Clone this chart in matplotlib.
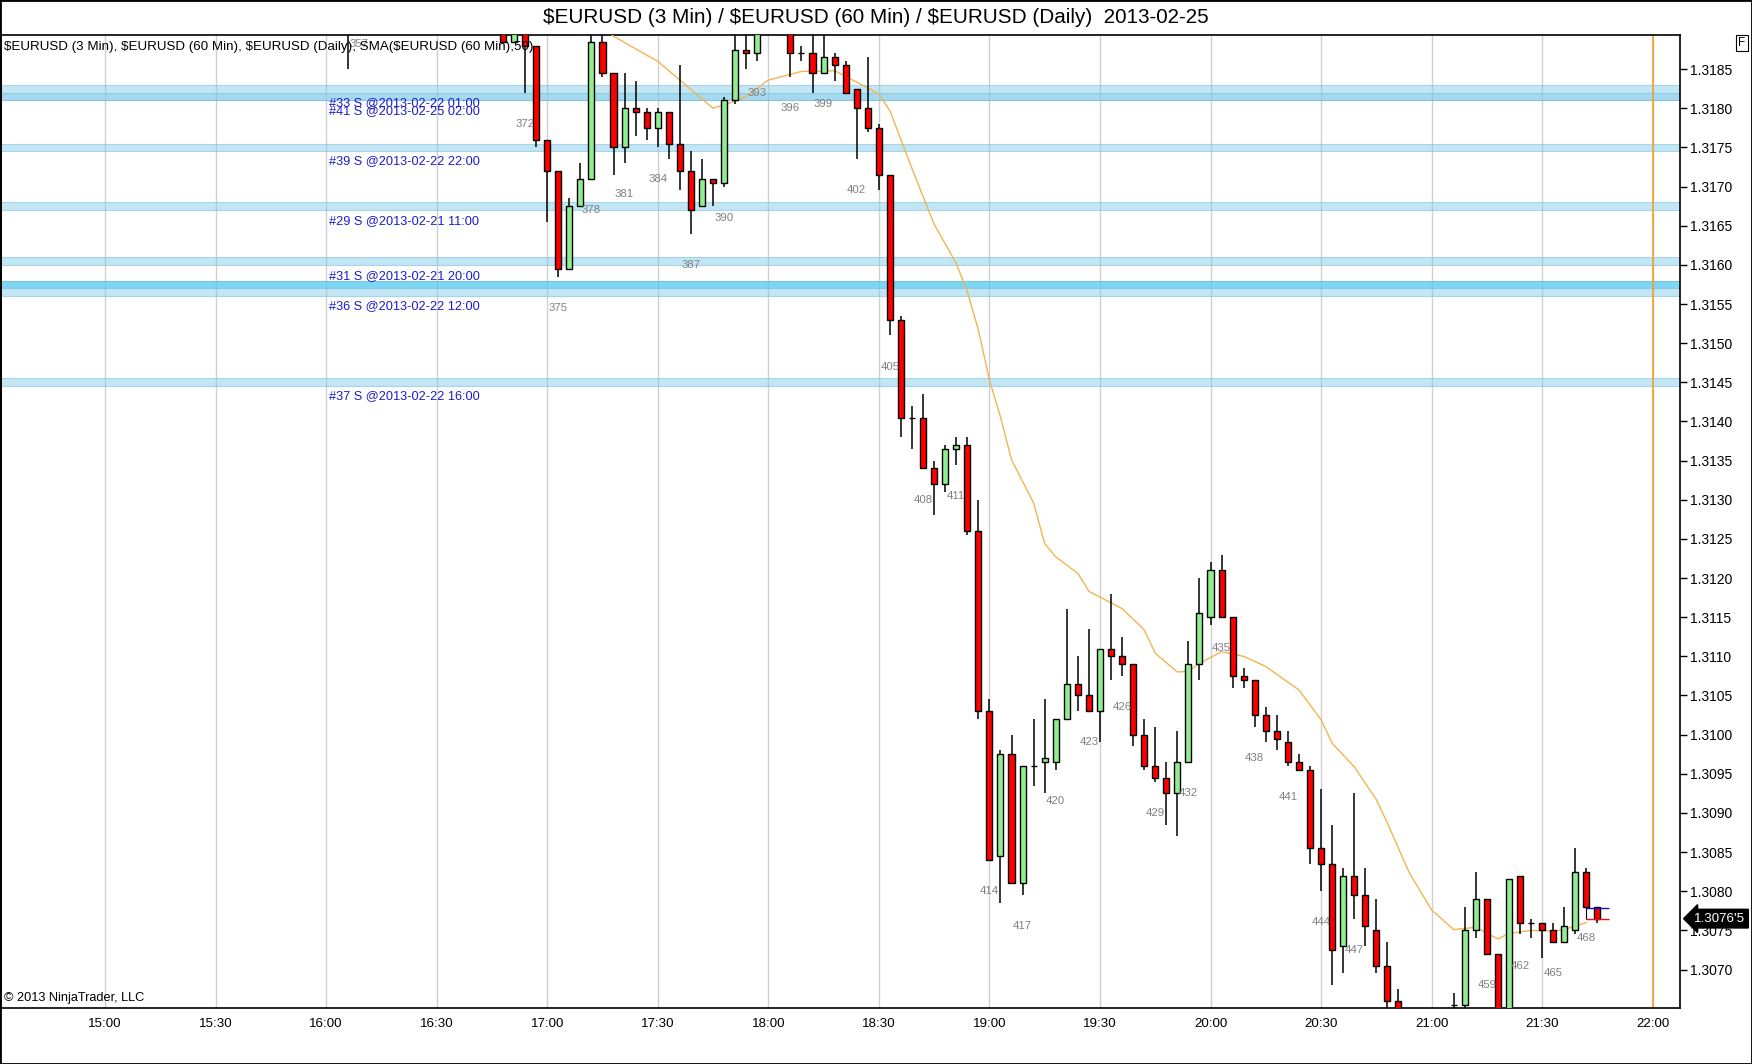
import numpy as np
import matplotlib
matplotlib.use('Agg')
import matplotlib.pyplot as plt
from matplotlib.patches import Rectangle

plt.rcParams['font.family'] = ['Liberation Sans', 'DejaVu Sans']

# 3 min bars, bar number -> OHLC
bar_no = [356, 357, 370, 371, 372, 373, 374, 375, 376, 377, 378, 379, 380, 381, 382, 383, 384, 385,
          386, 387, 388, 389, 390, 391, 392, 393, 394, 395, 396, 397, 398, 399, 400, 401, 402, 403,
          404, 405, 406, 407, 408, 409, 410, 411, 412, 413, 414, 415, 416, 417, 418, 419, 420, 421,
          422, 423, 424, 425, 426, 427, 428, 429, 430, 431, 432, 433, 434, 435, 436, 437, 438, 439,
          440, 441, 442, 443, 444, 445, 446, 447, 448, 449, 450, 451, 452, 453, 454, 455, 456, 457,
          458, 459, 460, 461, 462, 463, 464, 465, 466, 467, 468, 469]
opens = [1.31920, 1.31930, 1.31900, 1.31885, 1.31905, 1.31880, 1.31760, 1.31720, 1.31595, 1.31675,
         1.31710, 1.31885, 1.31845, 1.31750, 1.31800, 1.31795, 1.31775, 1.31795, 1.31755, 1.31720,
         1.31675, 1.31710, 1.31705, 1.31810, 1.31875, 1.31870, 1.31905, 1.31930, 1.31920, 1.31870,
         1.31870, 1.31845, 1.31865, 1.31855, 1.31825, 1.31800, 1.31775, 1.31715, 1.31530, 1.31405,
         1.31405, 1.31340, 1.31320, 1.31365, 1.31370, 1.31260, 1.31030, 1.30845, 1.30975, 1.30810,
         1.30960, 1.30965, 1.30965, 1.31020, 1.31065, 1.31050, 1.31030, 1.31110, 1.31100, 1.31090,
         1.31000, 1.30960, 1.30945, 1.30925, 1.30965, 1.31090, 1.31150, 1.31210, 1.31150, 1.31075,
         1.31070, 1.31025, 1.31005, 1.30990, 1.30965, 1.30955, 1.30855, 1.30835, 1.30730, 1.30820,
         1.30795, 1.30750, 1.30705, 1.30660, 1.30620, 1.30580, 1.30560, 1.30600, 1.30655, 1.30655,
         1.30750, 1.30790, 1.30720, 1.30640, 1.30820, 1.30760, 1.30760, 1.30750, 1.30735, 1.30750,
         1.30825, 1.30780]
highs = [1.31940, 1.31950, 1.31910, 1.31910, 1.31920, 1.31880, 1.31760, 1.31720, 1.31685, 1.31730,
         1.31900, 1.31900, 1.31845, 1.31845, 1.31835, 1.31800, 1.31800, 1.31795, 1.31855, 1.31745,
         1.31735, 1.31710, 1.31815, 1.31910, 1.31900, 1.31920, 1.31940, 1.31950, 1.31930, 1.31880,
         1.31900, 1.31900, 1.31870, 1.31860, 1.31825, 1.31865, 1.31780, 1.31715, 1.31535, 1.31420,
         1.31435, 1.31350, 1.31370, 1.31380, 1.31380, 1.31300, 1.31045, 1.30980, 1.31000, 1.30960,
         1.31020, 1.31045, 1.31020, 1.31160, 1.31100, 1.31135, 1.31110, 1.31180, 1.31125, 1.31090,
         1.31020, 1.31010, 1.30965, 1.31005, 1.31120, 1.31200, 1.31220, 1.31230, 1.31150, 1.31085,
         1.31070, 1.31035, 1.31025, 1.31005, 1.30975, 1.30960, 1.30930, 1.30885, 1.30830, 1.30925,
         1.30830, 1.30790, 1.30735, 1.30675, 1.30630, 1.30600, 1.30620, 1.30640, 1.30670, 1.30780,
         1.30825, 1.30790, 1.30720, 1.30815, 1.30820, 1.30765, 1.30760, 1.30760, 1.30780, 1.30855,
         1.30830, 1.30780]
lows = [1.31850, 1.31922, 1.31885, 1.31885, 1.31820, 1.31750, 1.31655, 1.31585, 1.31595, 1.31675,
        1.31710, 1.31840, 1.31715, 1.31730, 1.31765, 1.31760, 1.31750, 1.31735, 1.31695, 1.31640,
        1.31675, 1.31675, 1.31700, 1.31805, 1.31850, 1.31860, 1.31905, 1.31915, 1.31840, 1.31860,
        1.31820, 1.31845, 1.31835, 1.31820, 1.31735, 1.31770, 1.31695, 1.31510, 1.31380, 1.31365,
        1.31340, 1.31280, 1.31310, 1.31345, 1.31255, 1.31020, 1.30840, 1.30785, 1.30810, 1.30795,
        1.30935, 1.30925, 1.30955, 1.31020, 1.31030, 1.31030, 1.30990, 1.31070, 1.31075, 1.30985,
        1.30955, 1.30940, 1.30885, 1.30870, 1.30965, 1.31070, 1.31140, 1.31150, 1.31060, 1.31060,
        1.31010, 1.30990, 1.30980, 1.30960, 1.30955, 1.30835, 1.30800, 1.30680, 1.30695, 1.30765,
        1.30730, 1.30695, 1.30640, 1.30600, 1.30560, 1.30540, 1.30540, 1.30580, 1.30640, 1.30640,
        1.30740, 1.30720, 1.30620, 1.30630, 1.30745, 1.30740, 1.30715, 1.30735, 1.30735, 1.30745,
        1.30780, 1.30760]
closes = [1.31930, 1.31920, 1.31885, 1.31900, 1.31880, 1.31760, 1.31720, 1.31595, 1.31675, 1.31710,
          1.31885, 1.31845, 1.31750, 1.31800, 1.31795, 1.31775, 1.31795, 1.31755, 1.31720, 1.31670,
          1.31710, 1.31705, 1.31810, 1.31875, 1.31870, 1.31900, 1.31930, 1.31920, 1.31870, 1.31870,
          1.31845, 1.31865, 1.31855, 1.31820, 1.31800, 1.31775, 1.31715, 1.31530, 1.31405, 1.31405,
          1.31340, 1.31320, 1.31365, 1.31370, 1.31260, 1.31030, 1.30840, 1.30975, 1.30810, 1.30960,
          1.30960, 1.30970, 1.31020, 1.31065, 1.31050, 1.31030, 1.31110, 1.31100, 1.31090, 1.31000,
          1.30960, 1.30945, 1.30925, 1.30965, 1.31090, 1.31155, 1.31210, 1.31150, 1.31075, 1.31070,
          1.31025, 1.31005, 1.30995, 1.30965, 1.30955, 1.30855, 1.30835, 1.30725, 1.30820, 1.30795,
          1.30755, 1.30705, 1.30660, 1.30620, 1.30580, 1.30560, 1.30600, 1.30630, 1.30655, 1.30750,
          1.30790, 1.30720, 1.30640, 1.30815, 1.30760, 1.30760, 1.30750, 1.30735, 1.30755, 1.30825,
          1.30780, 1.30765]

# SMA($EURUSD (60 Min),50) read at some bars
sma_bar = [378, 380, 384, 386, 389, 391, 392, 394, 397, 400, 403, 404, 405, 407, 409, 411, 412, 413,
           414, 415, 416, 418, 419, 420, 422, 423, 426, 428, 429, 431, 432, 433, 435, 437, 439, 442,
           444, 445, 447, 449, 450, 452, 454, 456, 458, 460, 461, 463, 465, 466, 468]
sma_val = [1.31915, 1.31892, 1.31860, 1.31836, 1.31800, 1.31809, 1.31815, 1.31836, 1.31847, 1.31848,
           1.31826, 1.31818, 1.31797, 1.31723, 1.31652, 1.31602, 1.31566, 1.31517, 1.31453, 1.31406,
           1.31351, 1.31296, 1.31244, 1.31227, 1.31206, 1.31183, 1.31161, 1.31134, 1.31104, 1.31080,
           1.31081, 1.31091, 1.31106, 1.31100, 1.31087, 1.31057, 1.31019, 1.30989, 1.30959, 1.30917,
           1.30887, 1.30823, 1.30776, 1.30751, 1.30754, 1.30739, 1.30746, 1.30750, 1.30749, 1.30751,
           1.30760]

# short trade zones
band_lo = [1.3181, 1.3181, 1.31745, 1.3167, 1.3160, 1.3156, 1.3157, 1.31445]
band_hi = [1.3183, 1.3182, 1.31755, 1.3168, 1.3161, 1.3158, 1.3158, 1.31455]
band_col = ['#87ceeb', '#87ceeb', '#87ceeb', '#87ceeb', '#87ceeb', '#87ceeb', '#3cc8f2', '#87ceeb']
trade_text = ['#33 S @2013-02-22 01:00', '#41 S @2013-02-25 02:00', '#39 S @2013-02-22 22:00',
              '#29 S @2013-02-21 11:00', '#31 S @2013-02-21 20:00', '#36 S @2013-02-22 12:00',
              '#37 S @2013-02-22 16:00']
trade_y = [1.31807, 1.31796, 1.31732, 1.31656, 1.31586, 1.31547, 1.31432]

time_labels = ['15:00', '15:30', '16:00', '16:30', '17:00', '17:30', '18:00', '18:30',
               '19:00', '19:30', '20:00', '20:30', '21:00', '21:30', '22:00']
last_price = 1.30765
ask_price = 1.30778


def bar_time(n):
    # minutes after 15:00, bar 372 = 16:54
    return 114 + 3 * (np.asarray(n) - 372)


fig = plt.figure(figsize=(17.52, 10.64), dpi=100)
ax = fig.add_axes([0.0006, 0.0526, 0.9583, 0.9148])

t = bar_time(bar_no)
o = np.array(opens)
h = np.array(highs)
l = np.array(lows)
c = np.array(closes)

for xt in range(0, 421, 30):
    ax.axvline(xt, color='#d0d0d0', lw=1, zorder=0)

for lo, hi, col in zip(band_lo, band_hi, band_col):
    ax.axhspan(lo, hi, facecolor=col, alpha=0.5, edgecolor='#6fb8dc', lw=0.8, zorder=1)

for txt, y in zip(trade_text, trade_y):
    ax.text(60.8, y, txt, color='#1c1cc8', fontsize=9.2, ha='left', va='center', zorder=2)

ax.axvline(420, color='#f2a02a', lw=1.2, zorder=2)

ax.plot(bar_time(sma_bar), sma_val, color='#f3b452', lw=1.0, zorder=3)

ax.vlines(t, l, h, color='black', lw=1.1, zorder=4)
cols = ['#90ee90' if cc > oo else '#ff0000' for oo, cc in zip(o, c)]
ax.bar(t, c - o, bottom=o, width=1.65, color=cols, edgecolor='black', linewidth=1.0, zorder=5)

for n, tt, lw_ in zip(bar_no, t, l):
    if n % 3 == 0:
        ax.annotate(str(n), (tt, lw_), xytext=(0, -22.5), textcoords='offset points',
                    ha='center', va='center', fontsize=8.2, color='#808080',
                    annotation_clip=False, clip_on=True, zorder=6)

# bid / ask marks on the last bar
ax.hlines(ask_price, bar_time(468), bar_time(470), color='#1010c0', lw=1, zorder=6)
ax.hlines(last_price, bar_time(468), bar_time(470), color='#e01010', lw=1, zorder=6)
ax.vlines(bar_time(468), last_price, 1.3078, color='black', lw=0.8, zorder=6)

ax.set_xlim(-28.2, 427.4)
ax.set_ylim(1.306508, 1.31894)

ax.set_xticks(range(0, 421, 30))
ax.set_xticklabels(time_labels)
ax.tick_params(axis='x', length=0, pad=7, labelsize=9.6)
ax.yaxis.tick_right()
ax.set_yticks(np.arange(1.3070, 1.31851, 0.0005))
ax.yaxis.set_major_formatter(matplotlib.ticker.FormatStrFormatter('%.4f'))
ax.tick_params(axis='y', length=5, width=1, pad=2, labelsize=10)
for sp in ax.spines.values():
    sp.set_linewidth(1.2)

ax.text(0.002, 0.9874, '$EURUSD (3 Min), $EURUSD (60 Min), $EURUSD (Daily), SMA($EURUSD (60 Min),50)',
        transform=ax.transAxes, fontsize=9.6, ha='left', va='center', zorder=7, parse_math=False)
ax.text(0.002, 0.004, '\u00a9 2013 NinjaTrader, LLC', transform=ax.transAxes,
        fontsize=9.2, ha='left', va='bottom', zorder=7)

ax.annotate("1.3076'5", xy=(1.0, last_price), xycoords=('axes fraction', 'data'),
            xytext=(10, 0), textcoords='offset points', ha='left', va='center',
            fontsize=9.6, color='white', annotation_clip=False,
            bbox=dict(boxstyle='larrow,pad=0.25', fc='black', ec='black'))

fig.text(0.5, 0.984, '$EURUSD (3 Min) / $EURUSD (60 Min) / $EURUSD (Daily)  2013-02-25',
         ha='center', va='center', fontsize=14.9, parse_math=False)
fig.text(0.9943, 0.9596, 'F', ha='center', va='center', fontsize=8.5,
         bbox=dict(boxstyle='square,pad=0.2', fc='white', ec='black', lw=0.8))
fig.patches.append(Rectangle((0, 0), 1, 1, transform=fig.transFigure, fill=False,
                             edgecolor='black', lw=2))

fig.savefig('out.png', dpi=100)
